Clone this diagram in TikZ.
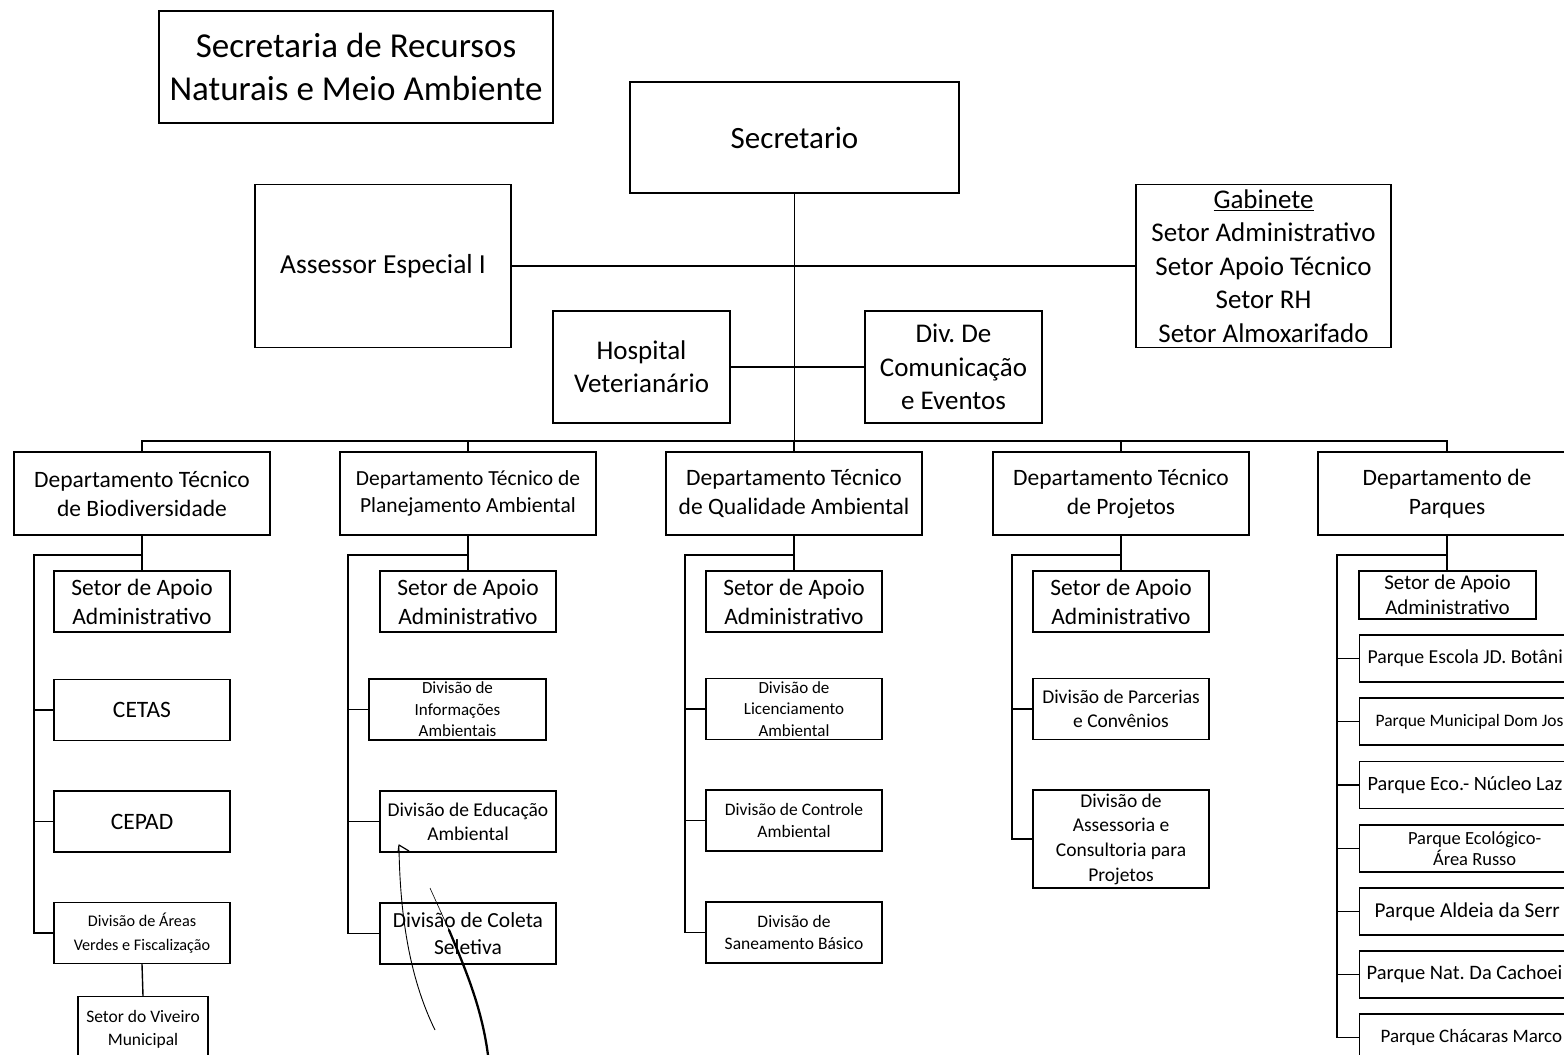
\documentclass[tikz,border=0pt]{standalone}
\usepackage{fontspec}
\setmainfont{Carlito}
\frenchspacing
\newcommand\fsz[2]{\fontsize{#1}{#2}\selectfont}
\newcommand\lbox[1]{\makebox[300pt][l]{#1}}
\begin{document}
\begin{tikzpicture}[x=1pt,y=-1pt,
  ln/.style={line width=1.4pt},
  box/.style={draw, line width=1.3pt, align=center, inner sep=0pt},
  dept/.style={box, minimum width=256, minimum height=83, font=\fsz{23.5}{29}},
  sub/.style={box, minimum width=176, minimum height=61},
  park/.style={box, anchor=west, minimum height=47, inner ysep=0pt}
]
\clip (0,0) rectangle (1564,1055);
\fill[white] (0,0) rectangle (1564,1055);

% top level
\node[box, minimum width=394, minimum height=112, font=\fsz{35}{42.5}] (title) at (356,67) {Secretaria de Recursos\\Naturais e Meio Ambiente};
\node[box, minimum width=329, minimum height=111, font=\fsz{31}{38}] (sec) at (794.5,137.5) {Secretario};
\node[box, minimum width=256, minimum height=163, font=\fsz{27.5}{33.5}] (ass) at (383,266) {Assessor Especial I};
\node[box, minimum width=255, minimum height=163, font=\fsz{27}{33.5}] (gab) at (1263.5,266) {\underline{Gabinete}\\Setor Administrativo\\Setor Apoio Técnico\\Setor RH\\Setor Almoxarifado};
\node[box, minimum width=177, minimum height=112, font=\fsz{27}{33}] (hosp) at (641.5,367) {Hospital\\Veterianário};
\node[box, minimum width=177, minimum height=112, font=\fsz{27}{33.5}] (dcom) at (953.5,367) {Div. De\\Comunicação\\e Eventos};

% departments
\node[dept] (d1) at (142,493.5) {Departamento Técnico\\de Biodiversidade};
\node[dept, font=\fsz{21.5}{27}] (d2) at (468,493.5) {Departamento Técnico de\\Planejamento Ambiental};
\node[dept] (d3) at (794,493.5) {Departamento Técnico\\de Qualidade Ambiental};
\node[dept] (d4) at (1121,493.5) {Departamento Técnico\\de Projetos};
\node[dept, minimum width=258] (d5) at (1447,493.5) {Departamento de\\Parques};

% column 1
\node[sub, font=\fsz{23.5}{29}] (sa1) at (142,601.5) {Setor de Apoio\\Administrativo};
\node[sub, font=\fsz{23.5}{29}] (cetas) at (142,710) {CETAS};
\node[sub, font=\fsz{23.5}{29}] (cepad) at (142,821.5) {CEPAD};
\node[sub, font=\fsz{16.2}{24.5}] (areas) at (142,933) {Divisão de Áreas\\Verdes e Fiscalização};
\node[box, minimum width=130, minimum height=65, font=\fsz{17.5}{23}] (viv) at (143,1029) {Setor do Viveiro\\Municipal};

% column 2
\node[sub, font=\fsz{23.5}{29}] (sa2) at (468,601.5) {Setor de Apoio\\Administrativo};
\node[sub, minimum width=177, font=\fsz{17}{21.5}] (info) at (457.5,709.5) {Divisão de\\Informações\\Ambientais};
\node[sub, font=\fsz{19.5}{24}] (edu) at (468,821.5) {Divisão de Educação\\Ambiental};
\node[sub, font=\fsz{21.5}{27.5}] (col) at (468,933.5) {Divisão de Coleta\\Seletiva};

% column 3
\node[sub, font=\fsz{23.5}{29}] (sa3) at (794,601.5) {Setor de Apoio\\Administrativo};
\node[sub, font=\fsz{17}{21.5}] (lic) at (794,709) {Divisão de\\Licenciamento\\Ambiental};
\node[sub, font=\fsz{17.5}{22}] (ctrl) at (794,820.5) {Divisão de Controle\\Ambiental};
\node[sub, font=\fsz{17.5}{22}] (san) at (794,932.5) {Divisão de\\Saneamento Básico};

% column 4
\node[sub, font=\fsz{23.5}{29}] (sa4) at (1121,601.5) {Setor de Apoio\\Administrativo};
\node[sub, font=\fsz{19.5}{24}] (parc) at (1121,709) {Divisão de Parcerias\\e Convênios};
\node[sub, minimum height=98, font=\fsz{19.5}{24.7}] (asses) at (1121,839) {Divisão de\\Assessoria e\\Consultoria para\\Projetos};

% column 5
\node[box, minimum width=177, minimum height=48, font=\fsz{21}{25}] (sa5) at (1447.5,595) {Setor de Apoio\\Administrativo};
\node[park, inner xsep=8, font=\fsz{19.8}{24}] (p1) at (1359,658.5) {\lbox{Parque Escola JD. Botâni}};
\node[park, inner xsep=16, font=\fsz{17.5}{22}] (p2) at (1359,721.5) {\lbox{Parque Municipal Dom Jos}};
\node[park, inner xsep=8, font=\fsz{20.3}{24}] (p3) at (1359,785) {\lbox{Parque Eco.- Núcleo Laz}};
\node[park, inner xsep=0, minimum width=230, font=\fsz{18.5}{21}] (p4) at (1359,848.5) {Parque Ecológico-\\Área Russo};
\node[park, inner xsep=15, font=\fsz{21.2}{24}] (p5) at (1359,911.5) {\lbox{Parque Aldeia da Serr}};
\node[park, inner xsep=7, font=\fsz{20.5}{24}] (p6) at (1359,974.5) {\lbox{Parque Nat. Da Cachoei}};
\node[park, inner xsep=21, font=\fsz{19}{24}] (p7) at (1359,1037.5) {\lbox{Parque Chácaras Marco}};

% top connectors
\coordinate (bus) at (795,441);
\draw[ln] (sec.south) -- (sec.south |- bus);
\draw[ln] (ass.east) -- (gab.west);
\draw[ln] (hosp.east) -- (dcom.west);
\draw[ln] (d1.north) -- (d1.north |- bus) -- (d5.north |- bus) -- (d5.north);
\foreach \d in {d2,d3,d4} {\draw[ln] (\d.north) -- (\d.north |- bus);}

% column 1 connectors
\coordinate (s1) at (34,555);
\draw[ln] (d1.south) -- (sa1.north);
\draw[ln] (d1.south |- s1) -- (s1) |- (areas.west);
\foreach \c in {cetas,cepad} {\draw[ln] (s1 |- \c.west) -- (\c.west);}
\draw[ln] (areas.south) -- (viv.north);

% column 2 connectors
\coordinate (s2) at (348,555);
\draw[ln] (d2.south) -- (sa2.north);
\draw[ln] (d2.south |- s2) -- (s2) |- (col.west);
\foreach \c in {info,edu} {\draw[ln] (s2 |- \c.west) -- (\c.west);}

% column 3 connectors
\coordinate (s3) at (685,555);
\draw[ln] (d3.south) -- (sa3.north);
\draw[ln] (d3.south |- s3) -- (s3) |- (san.west);
\foreach \c in {lic,ctrl} {\draw[ln] (s3 |- \c.west) -- (\c.west);}

% column 4 connectors
\coordinate (s4) at (1012,555);
\draw[ln] (d4.south) -- (sa4.north);
\draw[ln] (d4.south |- s4) -- (s4) |- (asses.west);
\draw[ln] (s4 |- parc.west) -- (parc.west);

% column 5 connectors
\coordinate (s5) at (1337,555);
\draw[ln] (d5.south) -- (d5.south |- sa5.north);
\draw[ln] (d5.south |- s5) -- (s5) |- (p7.west);
\foreach \c in {p1,p2,p3,p4,p5,p6} {\draw[ln] (s5 |- \c.west) -- (\c.west);}

% hand-drawn pen marks
\draw[line width=0.9pt] (399,848) .. controls (400,910) and (408,975) .. (435,1030);
\draw[line width=1.2pt, line join=round] (398,853) -- (399,845) -- (409,851);
\draw[line width=0.6pt] (430,888) -- (449,930);
\draw[line width=2.3pt, line cap=round] (449,930) .. controls (468,975) and (482,1010) .. (488,1055);
\end{tikzpicture}
\end{document}
